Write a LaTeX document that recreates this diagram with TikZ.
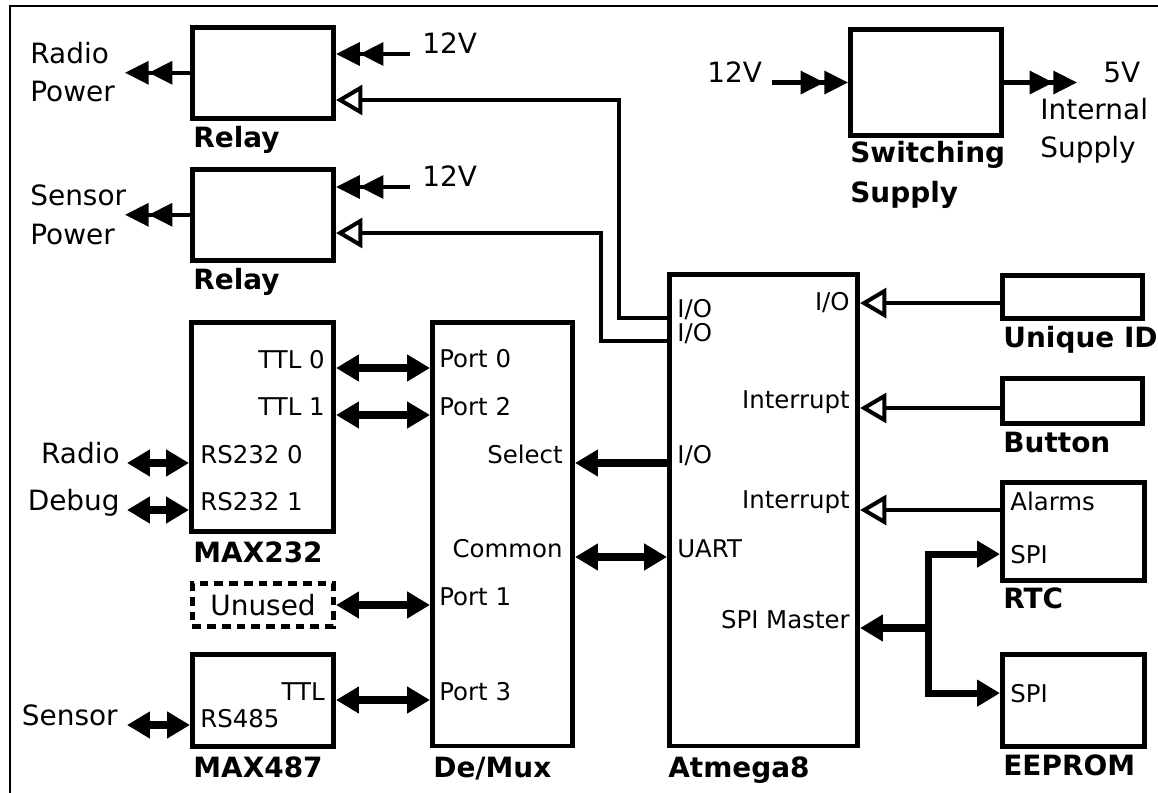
\documentclass[tikz,border=0pt]{standalone}
\usepackage{fontspec}
\setmainfont{DejaVu Sans}
\usetikzlibrary{arrows.meta}

\tikzset{
  blk/.style={draw, line width=2.6pt, inner sep=0pt, outer sep=1.3pt, anchor=north west},
  big/.style={font=\fontsize{15.9pt}{19pt}\selectfont, inner sep=0pt},
  port/.style={font=\fontsize{13.9pt}{17pt}\selectfont, inner sep=0pt},
  blkname/.style={font=\fontsize{15.9pt}{19pt}\selectfont\bfseries, inner sep=0pt, anchor=base west},
  pwr/.style={line width=2.3pt, -{Triangle[length=13.5pt,width=13pt,sep=0pt]Triangle[length=13.5pt,width=13pt]}},
  ctl/.style={line width=2.3pt, -{Triangle[open,length=15pt,width=17pt]}},
  bus/.style={line width=4pt, {Triangle[length=13pt,width=14.5pt]}-{Triangle[length=13pt,width=14.5pt]}},
  cmd/.style={line width=4pt, -{Triangle[length=13pt,width=14.5pt]}},
  outline/.style={line width=1.1pt}
}

\begin{document}
\begin{tikzpicture}[x=0.02cm,y=-0.02cm]
    \useasboundingbox (0,0) rectangle (1158,793);
    % outer frame, only top and left edge show
    \draw[outline] (10,793) |- (1158,6);

    % blocks
    \node[blk, minimum width=2.83cm, minimum height=1.82cm] (relayA) at (190,25) {};
    \node[blk, minimum width=2.83cm, minimum height=1.82cm] (relayB) at (190,167) {};
    \node[blk, minimum width=2.85cm, minimum height=4.18cm] (max232) at (189,320) {};
    \node[blk, big, dash pattern=on 5pt off 3.4pt, minimum width=2.83cm, minimum height=0.86cm] (unused) at (190,581) {Unused};
    \node[blk, minimum width=2.83cm, minimum height=1.84cm] (max487) at (190,652) {};
    \node[blk, minimum width=2.81cm, minimum height=8.48cm] (demux) at (430,320) {};
    \node[blk, minimum width=3.77cm, minimum height=9.44cm] (atmega) at (667,272) {};
    \node[blk, minimum width=3.03cm, minimum height=2.13cm] (smps) at (848,27) {};
    \node[blk, minimum width=2.81cm, minimum height=0.86cm] (uid) at (1000,273) {};
    \node[blk, minimum width=2.81cm, minimum height=0.9cm] (btn) at (1000,376) {};
    \node[blk, minimum width=2.85cm, minimum height=1.96cm] (rtc) at (1000,480) {};
    \node[blk, minimum width=2.85cm, minimum height=1.84cm] (eeprom) at (1000,652) {};

    % block names
    \node[blkname] (nRelayA) at (193,148) {Relay};
    \node[blkname] (nRelayB) at (193,290) {Relay};
    \node[blkname] (nMax232) at (193,562) {MAX232};
    \node[blkname] (nMax487) at (193,777) {MAX487};
    \node[blkname] (nDemux) at (433,777) {De/Mux};
    \node[blkname] (nAtmega) at (668,777) {Atmega8};
    \node[blkname] (nSmpsA) at (850,163) {Switching};
    \node[blkname] (nSmpsB) at (850,203) {Supply};
    \node[blkname] (nUid) at (1003,348) {Unique ID};
    \node[blkname] (nBtn) at (1003,452) {Button};
    \node[blkname] (nRtc) at (1003,608) {RTC};
    \node[blkname] (nEeprom) at (1003,775) {EEPROM};

    % outside labels
    \node[big, anchor=base west] (rpA1) at (30,64) {Radio};
    \node[big, anchor=base west] (rpA2) at (30,102) {Power};
    \node[big, anchor=base west] (rpB1) at (30,206) {Sensor};
    \node[big, anchor=base west] (rpB2) at (30,245) {Power};
    \node[big, anchor=base west] (vinA) at (422,54) {12V};
    \node[big, anchor=base west] (vinB) at (422,187) {12V};
    \node[big, anchor=base west] (vinS) at (707,83) {12V};
    \node[big, anchor=base west] (vout) at (1103,83) {5V};
    \node[big, anchor=base west] (intA) at (1040,120) {Internal};
    \node[big, anchor=base west] (intB) at (1040,158) {Supply};
    \node[big, anchor=base east] (radio) at (120,463) {Radio};
    \node[big, anchor=base east] (debug) at (120,510) {Debug};
    \node[big, anchor=base east] (sensor) at (118,725) {Sensor};

    % pin names
    \node[port, anchor=base east] (ttl0) at (325,368) {TTL 0};
    \node[port, anchor=base east] (ttl1) at (325,415) {TTL 1};
    \node[port, anchor=base west] (rs0) at (200,463) {RS232 0};
    \node[port, anchor=base west] (rs1) at (200,510) {RS232 1};
    \node[port, anchor=base east] (ttl) at (325,700) {TTL};
    \node[port, anchor=base west] (rs485) at (200,727) {RS485};
    \node[port, anchor=base west] (p0) at (439,367) {Port 0};
    \node[port, anchor=base west] (p2) at (439,415) {Port 2};
    \node[port, anchor=base east] (sel) at (563,463) {Select};
    \node[port, anchor=base east] (com) at (563,557) {Common};
    \node[port, anchor=base west] (p1) at (439,605) {Port 1};
    \node[port, anchor=base west] (p3) at (439,700) {Port 3};
    \node[port, anchor=base west] (ioLa) at (677,318) {I/O};
    \node[port, anchor=base west] (ioLb) at (677,341) {I/O};
    \node[port, anchor=base west] (ioSel) at (677,463) {I/O};
    \node[port, anchor=base west] (uart) at (677,557) {UART};
    \node[port, anchor=base east] (ioR) at (850,311) {I/O};
    \node[port, anchor=base east] (irqA) at (850,408) {Interrupt};
    \node[port, anchor=base east] (irqB) at (850,508) {Interrupt};
    \node[port, anchor=base east] (spim) at (850,628) {SPI Master};
    \node[port, anchor=base west] (alm) at (1010,510) {Alarms};
    \node[port, anchor=base west] (spiA) at (1010,563) {SPI};
    \node[port, anchor=base west] (spiB) at (1010,702) {SPI};

    % free ends and bends
    \coordinate (rpA) at (125,73);
    \coordinate (rpB) at (125,215);
    \coordinate (jA) at (619,100);
    \coordinate (jB) at (601,233);
    \coordinate (outS) at (1077,82);
    \coordinate (br) at (928,628);

    % power
    \draw[pwr] (relayA.west) -- (relayA.west -| rpA);
    \draw[pwr] (relayB.west) -- (relayB.west -| rpB);
    \draw[pwr] ([xshift=-0.24cm]vinA.base west) -- (relayA.east |- vinA.base);
    \draw[pwr] ([xshift=-0.24cm]vinB.base west) -- (relayB.east |- vinB.base);
    \draw[pwr] ([xshift=0.2cm]vinS.east |- smps.west) -- (smps.west);
    \draw[pwr] (smps.east) -- (smps.east -| outS);

    % relay control
    \draw[ctl] (atmega.west |- ioLa.base) -| (jA) -- (relayA.east |- jA);
    \draw[ctl] (atmega.west |- ioLb.base) -| (jB) -- (relayB.east |- jB);

    % inputs to the controller
    \draw[ctl] (uid.west |- ioR) -- (atmega.east |- ioR);
    \draw[ctl] (btn.west |- irqA.base) -- (atmega.east |- irqA.base);
    \draw[ctl] (rtc.west |- alm.base) -- (atmega.east |- alm.base);

    % serial lines
    \draw[bus, shorten <=0.14cm] (radio.base east) -- (max232.west |- rs0.base);
    \draw[bus, shorten <=0.14cm] (debug.base east) -- (max232.west |- rs1.base);
    \draw[bus, shorten <=0.18cm] (sensor.base east) -- (max487.west |- sensor.base);
    \draw[bus] (max232.east |- ttl0.base) -- (demux.west |- ttl0.base);
    \draw[bus] (max232.east |- ttl1.base) -- (demux.west |- ttl1.base);
    \draw[bus] (unused.east |- p1.base) -- (demux.west |- p1.base);
    \draw[bus] (max487.east |- p3.base) -- (demux.west |- p3.base);
    \draw[bus] (demux.east |- uart.base) -- (atmega.west |- uart.base);
    \draw[cmd] (atmega.west |- sel.base) -- (demux.east |- sel.base);

    % SPI
    \draw[cmd] (br) -- (atmega.east |- br);
    \draw[bus] (rtc.west |- spiA) -| (br) |- (eeprom.west |- spiB);
\end{tikzpicture}
\end{document}
